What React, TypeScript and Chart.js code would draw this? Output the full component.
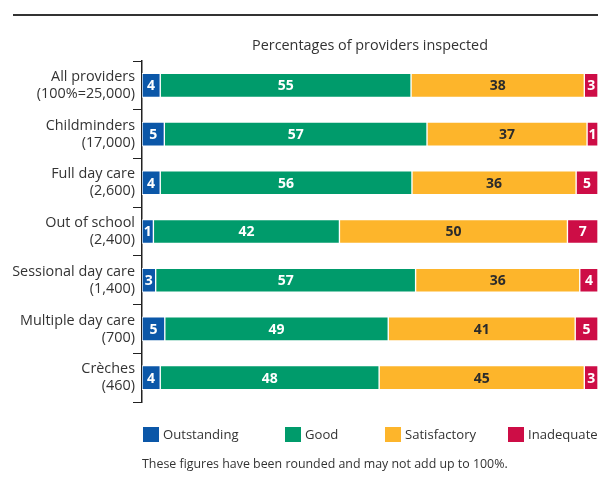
import React, { useEffect, useRef } from "react";
import { Chart, registerables } from "chart.js";

Chart.register(...registerables);

const FONT = "'Open Sans', 'Noto Sans', sans-serif";

const categories: string[][] = [
  ["All providers", "(100%=25,000)"],
  ["Childminders", "(17,000)"],
  ["Full day care", "(2,600)"],
  ["Out of school", "(2,400)"],
  ["Sessional day care", "(1,400)"],
  ["Multiple day care", "(700)"],
  ["Crèches", "(460)"],
];

const seriesNames = ["Outstanding", "Good", "Satisfactory", "Inadequate"];
const seriesColors = ["#0b57a8", "#009b6b", "#fdb52b", "#cd0d46"];
const labelColors = ["#ffffff", "#ffffff", "#2b2b2b", "#ffffff"];

// bar lengths as drawn in the picture (percentage scale)
const outstanding = [4, 4.9, 4, 2.5, 3, 5, 4];
const good = [55, 57.6, 55.2, 40.8, 57, 49, 48];
const satisfactory = [38, 35.1, 36, 50, 36, 41, 45];
const inadequate = [3, 2.4, 4.8, 6.7, 4, 5, 3];

// printed (rounded) figures
const outstandingLabels = ["4", "5", "4", "1", "3", "5", "4"];
const goodLabels = ["55", "57", "56", "42", "57", "49", "48"];
const satisfactoryLabels = ["38", "37", "36", "50", "36", "41", "45"];
const inadequateLabels = ["3", "1", "5", "7", "4", "5", "3"];

const titleText = "Percentages of providers inspected";
const footnote = "These figures have been rounded and may not add up to 100%.";

const seriesValues = [outstanding, good, satisfactory, inadequate];
const seriesLabels = [outstandingLabels, goodLabels, satisfactoryLabels, inadequateLabels];

const valueLabelPlugin = {
  id: "valueLabels",
  afterDatasetsDraw(chart: any) {
    const ctx = chart.ctx;
    ctx.save();
    ctx.font = `bold 14px ${FONT}`;
    ctx.textAlign = "center";
    ctx.textBaseline = "middle";
    chart.data.datasets.forEach((ds: any, di: number) => {
      const meta = chart.getDatasetMeta(di);
      meta.data.forEach((el: any, i: number) => {
        const x = (el.x + el.base) / 2;
        ctx.fillStyle = labelColors[di];
        ctx.fillText(seriesLabels[di][i], x, el.y + 1);
      });
    });
    ctx.restore();
  },
};

export default function App() {
  const canvasRef = useRef<HTMLCanvasElement | null>(null);

  useEffect(() => {
    if (!canvasRef.current) return;
    const chart = new Chart(canvasRef.current, {
      type: "bar",
      data: {
        labels: categories,
        datasets: seriesNames.map((name, i) => ({
          label: name,
          data: seriesValues[i],
          backgroundColor: seriesColors[i],
          borderColor: "#ffffff",
          borderWidth: 1,
          borderSkipped: false,
          barThickness: 24,
        })),
      },
      options: {
        indexAxis: "y",
        responsive: false,
        animation: false,
        devicePixelRatio: 1,
        layout: { padding: { top: 61, bottom: 85, left: 0, right: 0 } },
        plugins: {
          legend: { display: false },
          title: { display: false },
          tooltip: { enabled: false },
        },
        scales: {
          x: {
            display: false,
            stacked: true,
            min: 0,
            max: 100,
          },
          y: {
            stacked: true,
            grid: {
              offset: true,
              drawOnChartArea: false,
              drawTicks: true,
              tickLength: 9,
              color: "#222222",
              lineWidth: 1,
            },
            border: { display: true, color: "#222222", width: 1.5 },
            ticks: {
              padding: -2,
              autoSkip: false,
              color: "#333333",
              font: { family: FONT, size: 14.4, lineHeight: 1.18 },
            },
            afterFit: (s: any) => {
              s.width = 142;
            },
          },
        },
      } as any,
      plugins: [valueLabelPlugin],
    });
    return () => chart.destroy();
  }, []);

  const legendLefts = [143, 285, 385, 508];

  return (
    <div
      style={{
        position: "fixed",
        left: 0,
        top: 0,
        width: 598,
        height: 487,
        background: "#ffffff",
        overflow: "hidden",
        fontFamily: FONT,
        color: "#333333",
      }}
    >
      <div
        style={{
          position: "absolute",
          left: 13,
          top: 14,
          width: 585,
          height: 2,
          background: "#333333",
        }}
      />
      <canvas
        ref={canvasRef}
        width={598}
        height={487}
        style={{ position: "absolute", left: 0, top: 0, width: 598, height: 487 }}
      />
      <div
        style={{
          position: "absolute",
          left: 142,
          width: 456,
          top: 35,
          height: 20,
          lineHeight: "20px",
          fontSize: 14.4,
          textAlign: "center",
          whiteSpace: "nowrap",
        }}
      >
        {titleText}
      </div>
      {seriesNames.map((name, i) => (
        <div
          key={name}
          style={{
            position: "absolute",
            left: legendLefts[i],
            top: 424,
            height: 20,
            display: "flex",
            alignItems: "center",
            whiteSpace: "nowrap",
            fontSize: 13.1,
          }}
        >
          <span
            style={{
              display: "inline-block",
              width: 16,
              height: 15,
              background: seriesColors[i],
              marginRight: 4,
            }}
          />
          <span>{name}</span>
        </div>
      ))}
      <div
        style={{
          position: "absolute",
          left: 142,
          top: 455,
          height: 18,
          lineHeight: "18px",
          fontSize: 12.4,
          whiteSpace: "nowrap",
        }}
      >
        {footnote}
      </div>
    </div>
  );
}
